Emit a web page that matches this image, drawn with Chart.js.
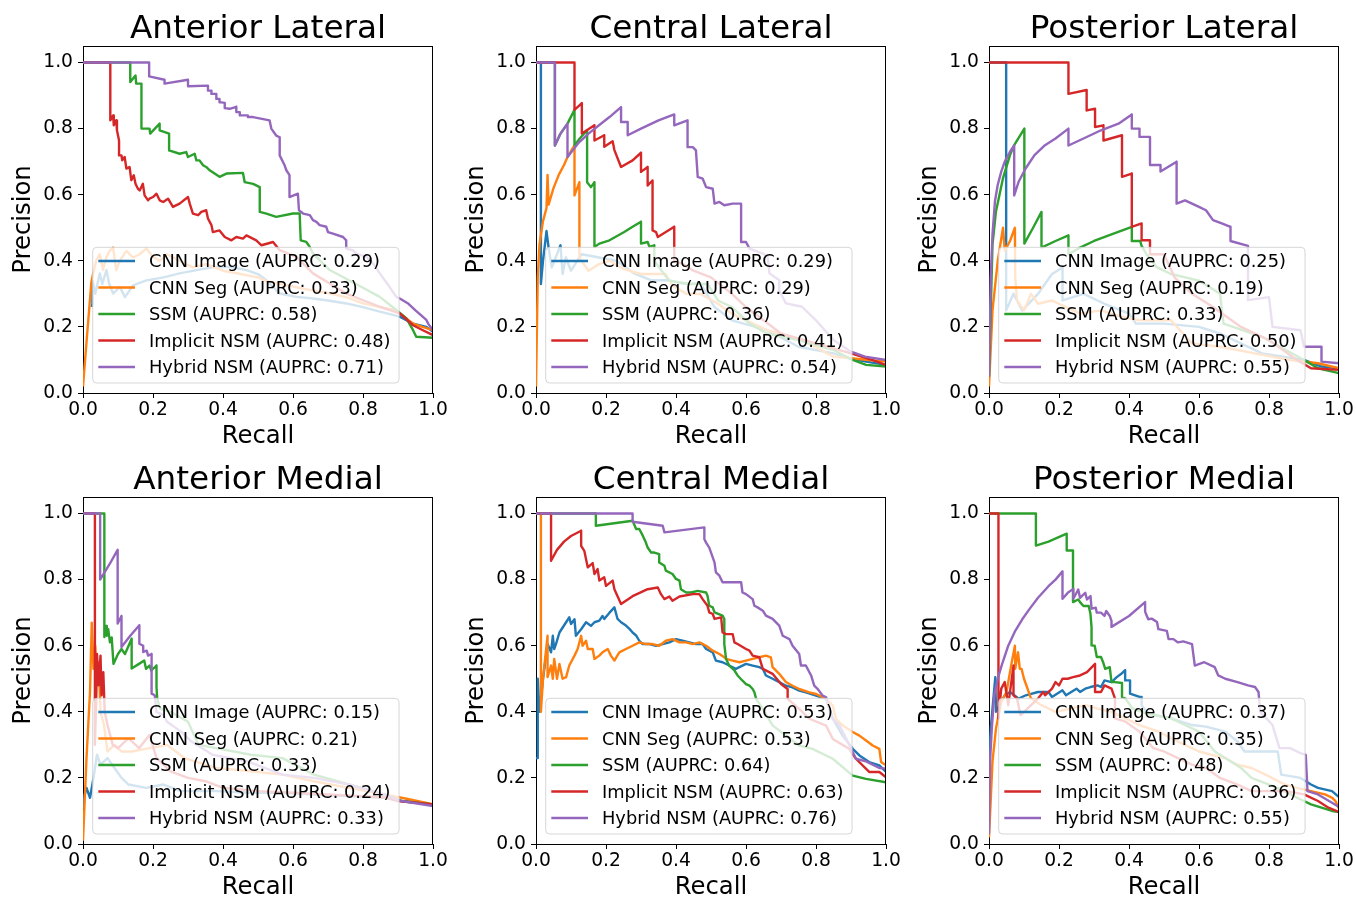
<!DOCTYPE html>
<html>
<head>
<meta charset="utf-8">
<script src="https://cdn.jsdelivr.net/npm/chart.js@4.4.0/dist/chart.umd.min.js"></script>
<style>
html, body { margin:0; padding:0; background:#fff; overflow:hidden; width:1356px; height:897px; }
canvas { position:absolute; }
</style>
</head>
<body>
<canvas id="c0" width="452" height="451" style="left:0px;top:0px"></canvas>
<canvas id="c1" width="452" height="451" style="left:453px;top:0px"></canvas>
<canvas id="c2" width="452" height="451" style="left:906px;top:0px"></canvas>
<canvas id="c3" width="452" height="451" style="left:0px;top:451px"></canvas>
<canvas id="c4" width="452" height="451" style="left:453px;top:451px"></canvas>
<canvas id="c5" width="452" height="451" style="left:906px;top:451px"></canvas>
<script>
// ---------- labels & tick values ----------
const PANEL_TITLES = ['Anterior Lateral', 'Central Lateral', 'Posterior Lateral',
                      'Anterior Medial', 'Central Medial', 'Posterior Medial'];
const SERIES_NAMES = ['CNN Image', 'CNN Seg', 'SSM', 'Implicit NSM', 'Hybrid NSM'];
const X_TICKS = [0.0, 0.2, 0.4, 0.6, 0.8, 1.0];
const Y_TICKS = [0.0, 0.2, 0.4, 0.6, 0.8, 1.0];

// AUPRC values per panel (order: CNN Image, CNN Seg, SSM, Implicit NSM, Hybrid NSM)
const AUPRC_AL = [0.29, 0.33, 0.58, 0.48, 0.71];
const AUPRC_CL = [0.29, 0.29, 0.36, 0.41, 0.54];
const AUPRC_PL = [0.25, 0.19, 0.33, 0.50, 0.55];
const AUPRC_AM = [0.15, 0.21, 0.33, 0.24, 0.33];
const AUPRC_CM = [0.53, 0.53, 0.64, 0.63, 0.76];
const AUPRC_PM = [0.37, 0.35, 0.48, 0.36, 0.55];

// ---------- curves: [recall, precision] ----------
// Anterior Lateral
const AL_CNN_IMAGE = [[.025,.26],[.027,.27],[.027,.34],[.035,.30],[.048,.362],[.055,.33],[.067,.372],[.075,.33],[.086,.301],[.105,.321],[.12,.29],[.143,.326],[.181,.341],[.23,.35],[.276,.362],[.324,.372],[.37,.38],[.419,.382],[.467,.372],[.50,.36],[.524,.341],[.562,.301],[.61,.291],[.657,.286],[.70,.28],[.752,.271],[.80,.26],[.848,.246],[.905,.231],[.943,.21],[.981,.20],[1,.185]];
const AL_CNN_SEG = [[0,.02],[.012,.18],[.024,.336],[.029,.362],[.038,.402],[.048,.42],[.057,.372],[.067,.412],[.076,.43],[.086,.44],[.095,.372],[.105,.40],[.124,.43],[.143,.41],[.162,.42],[.181,.437],[.20,.412],[.219,.40],[.24,.42],[.276,.40],[.314,.38],[.352,.39],[.40,.37],[.45,.36],[.50,.35],[.52,.34],[.562,.33],[.61,.32],[.657,.31],[.705,.301],[.752,.29],[.80,.271],[.848,.26],[.895,.25],[.943,.21],[.97,.20],[1,.19]];
const AL_SSM = [[0,1],[.135,1],[.135,.941],[.15,.961],[.152,.936],[.167,.936],[.167,.80],[.19,.80],[.192,.785],[.219,.815],[.219,.795],[.246,.785],[.246,.734],[.276,.724],[.295,.729],[.30,.714],[.319,.724],[.324,.704],[.333,.704],[.343,.689],[.352,.684],[.362,.674],[.39,.654],[.41,.664],[.457,.666],[.462,.638],[.486,.633],[.505,.623],[.505,.548],[.524,.543],[.552,.533],[.60,.543],[.619,.543],[.622,.462],[.638,.457],[.648,.442],[.657,.422],[.705,.372],[.78,.33],[.848,.291],[.895,.251],[.924,.226],[.943,.19],[.952,.17],[1,.167]];
const AL_IMPLICIT = [[0,1],[.078,1],[.078,.825],[.086,.84],[.088,.81],[.095,.825],[.097,.795],[.103,.764],[.103,.719],[.11,.719],[.112,.704],[.119,.714],[.124,.679],[.133,.684],[.138,.644],[.145,.659],[.15,.633],[.157,.618],[.162,.613],[.171,.633],[.176,.598],[.186,.583],[.19,.588],[.20,.593],[.21,.603],[.219,.583],[.229,.578],[.243,.588],[.257,.563],[.276,.573],[.30,.593],[.305,.573],[.314,.543],[.329,.538],[.338,.548],[.352,.553],[.357,.528],[.367,.508],[.371,.487],[.39,.492],[.405,.472],[.424,.462],[.438,.472],[.457,.467],[.467,.477],[.495,.462],[.51,.447],[.543,.457],[.562,.432],[.61,.412],[.657,.362],[.752,.301],[.848,.261],[.905,.241],[.943,.205],[.971,.19],[1,.175]];
const AL_HYBRID = [[0,1],[.189,1],[.189,.958],[.233,.948],[.233,.936],[.30,.948],[.30,.928],[.357,.93],[.357,.915],[.367,.915],[.367,.905],[.381,.905],[.381,.89],[.39,.89],[.39,.88],[.405,.878],[.405,.862],[.419,.86],[.438,.866],[.438,.85],[.448,.85],[.448,.84],[.471,.84],[.471,.835],[.486,.835],[.533,.825],[.538,.80],[.552,.779],[.562,.774],[.562,.719],[.576,.689],[.581,.674],[.59,.659],[.59,.593],[.614,.603],[.617,.553],[.629,.543],[.648,.538],[.657,.523],[.667,.518],[.676,.508],[.695,.503],[.70,.487],[.714,.482],[.743,.472],[.752,.462],[.752,.437],[.771,.432],[.781,.422],[.81,.412],[.83,.39],[.848,.362],[.87,.33],[.895,.291],[.905,.286],[.93,.27],[.95,.25],[.981,.221],[.986,.21],[1,.19]];

// Central Lateral
const CL_CNN_IMAGE = [[0,1],[.014,1],[.014,.33],[.02,.40],[.03,.49],[.036,.44],[.045,.38],[.07,.447],[.076,.36],[.085,.41],[.10,.37],[.13,.42],[.18,.41],[.23,.40],[.28,.362],[.33,.341],[.38,.341],[.42,.331],[.47,.331],[.51,.26],[.56,.22],[.66,.19],[.75,.14],[.85,.12],[.895,.105],[.943,.095],[1,.085]];
const CL_CNN_SEG = [[0,.02],[.005,.35],[.01,.45],[.02,.52],[.03,.56],[.033,.66],[.036,.57],[.05,.62],[.065,.66],[.08,.69],[.09,.714],[.11,.75],[.11,.598],[.124,.638],[.124,.41],[.13,.40],[.15,.37],[.18,.39],[.21,.40],[.25,.375],[.30,.36],[.33,.36],[.37,.36],[.39,.325],[.43,.30],[.47,.30],[.52,.27],[.56,.24],[.60,.22],[.66,.19],[.76,.16],[.85,.11],[.90,.105],[.95,.10],[1,.095]];
const CL_SSM = [[0,1],[.054,1],[.054,.749],[.07,.785],[.09,.815],[.11,.857],[.11,.75],[.125,.77],[.146,.795],[.146,.638],[.157,.623],[.167,.638],[.167,.442],[.181,.452],[.21,.462],[.252,.487],[.276,.503],[.30,.518],[.30,.452],[.319,.457],[.324,.442],[.338,.447],[.338,.40],[.38,.34],[.44,.33],[.49,.33],[.52,.28],[.56,.26],[.61,.21],[.66,.18],[.75,.16],[.85,.13],[.905,.10],[.943,.085],[1,.08]];
const CL_IMPLICIT = [[0,1],[.11,1],[.11,.857],[.131,.877],[.131,.785],[.167,.81],[.167,.764],[.195,.78],[.195,.745],[.219,.762],[.224,.735],[.243,.684],[.276,.704],[.30,.727],[.30,.669],[.319,.684],[.319,.628],[.333,.643],[.333,.492],[.343,.487],[.348,.472],[.371,.487],[.395,.503],[.395,.40],[.42,.39],[.45,.37],[.50,.35],[.56,.30],[.60,.26],[.65,.22],[.70,.18],[.80,.15],[.90,.12],[.96,.10],[1,.085]];
const CL_HYBRID = [[0,1],[.054,1],[.054,.749],[.07,.785],[.09,.815],[.09,.714],[.12,.755],[.15,.785],[.18,.81],[.21,.835],[.243,.865],[.243,.82],[.262,.82],[.262,.78],[.30,.80],[.35,.825],[.395,.843],[.395,.81],[.433,.825],[.433,.744],[.448,.744],[.457,.734],[.462,.654],[.476,.649],[.486,.623],[.505,.618],[.51,.573],[.524,.578],[.538,.568],[.562,.573],[.586,.573],[.586,.457],[.60,.457],[.61,.437],[.648,.422],[.662,.412],[.667,.362],[.695,.341],[.695,.311],[.714,.271],[.76,.261],[.80,.22],[.85,.16],[.90,.125],[.94,.11],[1,.10]];

// Posterior Lateral
const PL_CNN_IMAGE = [[0,1],[.049,1],[.049,.25],[.07,.30],[.095,.25],[.14,.30],[.18,.36],[.21,.38],[.21,.28],[.27,.30],[.33,.27],[.40,.24],[.42,.21],[.50,.21],[.60,.20],[.66,.18],[.78,.12],[.90,.10],[.95,.08],[1,.075]];
const PL_CNN_SEG = [[0,.02],[.01,.25],[.025,.40],[.04,.50],[.045,.43],[.06,.46],[.074,.50],[.075,.35],[.08,.28],[.10,.25],[.12,.30],[.14,.27],[.18,.28],[.22,.26],[.26,.24],[.32,.25],[.38,.23],[.43,.22],[.52,.22],[.58,.15],[.66,.14],[.76,.12],[.86,.10],[.94,.09],[1,.075]];
const PL_SSM = [[0,.05],[.01,.45],[.02,.55],[.04,.65],[.06,.72],[.072,.75],[.101,.80],[.101,.452],[.126,.50],[.15,.548],[.15,.44],[.19,.46],[.227,.477],[.227,.42],[.26,.44],[.30,.46],[.35,.48],[.408,.503],[.408,.46],[.432,.46],[.436,.445],[.45,.42],[.48,.38],[.52,.36],[.60,.34],[.66,.30],[.67,.21],[.78,.17],[.90,.10],[.94,.075],[1,.06]];
const PL_IMPLICIT = [[0,1],[.227,1],[.227,.905],[.279,.917],[.279,.855],[.303,.86],[.303,.805],[.327,.81],[.327,.764],[.38,.78],[.38,.654],[.408,.664],[.408,.503],[.436,.513],[.436,.462],[.46,.462],[.46,.42],[.50,.42],[.53,.35],[.58,.30],[.64,.26],[.72,.20],[.80,.16],[.88,.10],[.92,.075],[1,.07]];
const PL_HYBRID = [[0,.05],[.005,.35],[.01,.48],[.017,.58],[.025,.63],[.035,.67],[.045,.70],[.06,.73],[.072,.749],[.072,.598],[.085,.64],[.105,.68],[.13,.72],[.16,.75],[.19,.77],[.227,.80],[.227,.749],[.27,.77],[.32,.795],[.37,.815],[.408,.843],[.408,.80],[.43,.80],[.43,.775],[.46,.775],[.46,.69],[.49,.69],[.49,.67],[.536,.70],[.536,.573],[.56,.583],[.60,.563],[.62,.553],[.64,.523],[.665,.513],[.69,.503],[.69,.46],[.74,.445],[.74,.281],[.80,.29],[.81,.20],[.89,.19],[.90,.14],[.95,.14],[.95,.095],[1,.09]];

// Anterior Medial
const AM_CNN_IMAGE = [[0,.11],[.005,.15],[.01,.17],[.02,.14],[.03,.20],[.04,.27],[.05,.24],[.07,.26],[.09,.23],[.11,.20],[.13,.18],[.18,.17],[.23,.18],[.28,.16],[.38,.16],[.48,.155],[.57,.155],[.66,.15],[.76,.145],[.86,.14],[.91,.13],[1,.12]];
const AM_CNN_SEG = [[0,.01],[.01,.26],[.02,.46],[.025,.67],[.03,.53],[.035,.60],[.04,.50],[.045,.55],[.05,.40],[.06,.36],[.07,.28],[.09,.30],[.11,.28],[.14,.28],[.19,.29],[.24,.30],[.29,.26],[.38,.23],[.48,.22],[.57,.21],[.66,.19],[.76,.17],[.86,.15],[.91,.14],[1,.12]];
const AM_SSM = [[0,1],[.061,1],[.061,.626],[.066,.66],[.068,.63],[.072,.65],[.077,.61],[.082,.625],[.087,.545],[.10,.575],[.11,.59],[.12,.575],[.139,.621],[.139,.531],[.16,.545],[.175,.555],[.18,.53],[.19,.54],[.195,.525],[.21,.54],[.21,.475],[.212,.44],[.22,.41],[.25,.40],[.30,.37],[.33,.30],[.38,.29],[.48,.27],[.57,.26],[.66,.21],[.76,.18],[.86,.15],[.91,.13],[1,.12]];
const AM_IMPLICIT = [[0,1],[.034,1],[.034,.30],[.038,.45],[.04,.575],[.045,.48],[.05,.57],[.053,.45],[.058,.52],[.062,.40],[.07,.36],[.085,.30],[.10,.29],[.13,.32],[.16,.29],[.19,.33],[.21,.26],[.25,.22],[.30,.20],[.35,.19],[.40,.17],[.50,.16],[.60,.155],[.70,.15],[.80,.145],[.87,.14],[.90,.13],[.95,.125],[1,.12]];
const AM_HYBRID = [[0,1],[.049,1],[.049,.80],[.075,.845],[.099,.89],[.099,.667],[.11,.69],[.11,.596],[.135,.63],[.161,.662],[.161,.606],[.172,.60],[.172,.581],[.182,.585],[.186,.57],[.196,.575],[.196,.455],[.205,.45],[.21,.40],[.23,.39],[.24,.37],[.28,.34],[.31,.31],[.37,.27],[.47,.25],[.57,.21],[.66,.20],[.76,.18],[.86,.15],[.91,.13],[1,.115]];

// Central Medial
const CM_CNN_IMAGE = [[0,.26],[.005,.26],[.005,.50],[.01,.40],[.02,.50],[.033,.605],[.043,.58],[.048,.63],[.052,.59],[.057,.605],[.067,.64],[.086,.671],[.095,.686],[.10,.666],[.11,.68],[.114,.63],[.129,.65],[.143,.671],[.157,.66],[.167,.671],[.181,.676],[.19,.69],[.195,.681],[.21,.70],[.224,.716],[.233,.681],[.243,.671],[.257,.661],[.267,.651],[.276,.64],[.286,.631],[.295,.615],[.305,.605],[.324,.605],[.343,.60],[.362,.605],[.381,.61],[.40,.62],[.419,.615],[.438,.61],[.457,.605],[.476,.605],[.486,.59],[.505,.58],[.514,.555],[.533,.55],[.552,.54],[.571,.53],[.60,.545],[.619,.54],[.638,.535],[.648,.53],[.657,.51],[.676,.50],[.695,.49],[.714,.479],[.733,.474],[.752,.464],[.771,.459],[.80,.449],[.829,.439],[.848,.379],[.876,.328],[.905,.288],[.924,.268],[.952,.248],[.981,.238],[1,.218]];
const CM_CNN_SEG = [[0,1],[.014,1],[.014,.40],[.02,.50],[.033,.63],[.033,.505],[.043,.54],[.048,.50],[.052,.56],[.06,.50],[.067,.545],[.076,.50],[.086,.505],[.095,.54],[.11,.57],[.119,.59],[.129,.63],[.133,.60],[.143,.615],[.148,.59],[.162,.59],[.167,.56],[.181,.57],[.19,.58],[.205,.59],[.214,.57],[.224,.555],[.238,.58],[.257,.59],[.276,.60],[.295,.61],[.314,.605],[.333,.605],[.352,.60],[.371,.615],[.39,.62],[.41,.61],[.429,.61],[.448,.605],[.467,.61],[.486,.60],[.505,.585],[.524,.575],[.538,.565],[.543,.56],[.562,.555],[.581,.55],[.60,.555],[.619,.56],[.638,.565],[.657,.57],[.671,.565],[.676,.535],[.695,.515],[.714,.49],[.733,.479],[.752,.469],[.781,.459],[.80,.454],[.81,.449],[.829,.439],[.848,.419],[.857,.379],[.876,.359],[.905,.339],[.924,.328],[.943,.313],[.962,.298],[.981,.288],[.986,.248],[1,.238]];
const CM_SSM = [[0,1],[.171,1],[.171,.963],[.276,.978],[.286,.953],[.295,.953],[.305,.933],[.314,.912],[.319,.897],[.329,.882],[.338,.882],[.352,.877],[.352,.852],[.367,.842],[.371,.827],[.39,.817],[.40,.802],[.41,.797],[.414,.771],[.429,.761],[.443,.761],[.462,.766],[.486,.761],[.49,.751],[.495,.721],[.505,.716],[.51,.701],[.533,.691],[.538,.681],[.538,.605],[.543,.56],[.552,.54],[.567,.525],[.576,.51],[.59,.494],[.60,.484],[.61,.479],[.619,.469],[.624,.459],[.629,.439],[.648,.409],[.676,.359],[.714,.328],[.752,.298],[.79,.288],[.848,.258],[.905,.207],[.943,.197],[1,.187]];
const CM_IMPLICIT = [[0,1],[.043,1],[.043,.857],[.06,.89],[.08,.915],[.10,.932],[.129,.948],[.129,.902],[.138,.887],[.143,.862],[.148,.837],[.162,.85],[.167,.817],[.176,.832],[.181,.797],[.195,.807],[.20,.781],[.219,.797],[.224,.771],[.243,.726],[.276,.75],[.319,.771],[.348,.776],[.357,.756],[.367,.741],[.381,.749],[.39,.736],[.41,.749],[.448,.756],[.467,.756],[.476,.741],[.49,.721],[.495,.701],[.505,.696],[.51,.681],[.529,.686],[.533,.64],[.543,.635],[.562,.635],[.567,.61],[.576,.605],[.60,.59],[.61,.585],[.619,.57],[.638,.565],[.648,.53],[.676,.515],[.70,.484],[.719,.469],[.719,.439],[.752,.409],[.781,.379],[.829,.358],[.848,.318],[.876,.30],[.895,.288],[.914,.258],[.952,.218],[.981,.218],[1,.202]];
const CM_HYBRID = [[0,1],[.276,1],[.276,.975],[.362,.963],[.367,.943],[.481,.958],[.481,.922],[.486,.912],[.495,.897],[.51,.852],[.514,.822],[.524,.812],[.533,.792],[.562,.792],[.586,.792],[.59,.761],[.60,.756],[.619,.741],[.624,.721],[.633,.716],[.648,.706],[.657,.691],[.676,.681],[.695,.661],[.705,.63],[.724,.62],[.733,.60],[.752,.575],[.757,.54],[.771,.54],[.786,.51],[.795,.479],[.805,.469],[.819,.449],[.829,.444],[.838,.409],[.848,.379],[.867,.359],[.895,.30],[.914,.258],[.943,.25],[.981,.23],[1,.228]];

// Posterior Medial
const PM_CNN_IMAGE = [[0,.25],[.005,.35],[.018,.505],[.02,.40],[.03,.42],[.045,.45],[.06,.46],[.085,.44],[.105,.45],[.14,.46],[.17,.46],[.18,.445],[.21,.465],[.22,.45],[.25,.47],[.26,.46],[.275,.47],[.29,.475],[.31,.48],[.32,.475],[.33,.495],[.35,.49],[.365,.505],[.378,.515],[.389,.526],[.389,.495],[.403,.495],[.403,.455],[.43,.445],[.436,.445],[.436,.42],[.45,.40],[.475,.39],[.52,.38],[.58,.36],[.62,.355],[.675,.34],[.71,.31],[.73,.28],[.825,.28],[.835,.21],[.89,.20],[.92,.18],[.94,.17],[.98,.16],[1,.142]];
const PM_CNN_SEG = [[0,.02],[.01,.25],[.02,.35],[.035,.43],[.05,.46],[.065,.55],[.074,.60],[.075,.53],[.083,.58],[.088,.53],[.093,.53],[.10,.50],[.11,.47],[.12,.44],[.15,.42],[.19,.40],[.235,.41],[.275,.42],[.31,.41],[.35,.40],[.39,.38],[.43,.36],[.485,.34],[.52,.32],[.56,.30],[.60,.28],[.635,.27],[.675,.26],[.71,.24],[.75,.23],[.79,.21],[.845,.18],[.88,.17],[.92,.16],[.96,.15],[.98,.14],[.99,.13],[1,.107]];
const PM_SSM = [[0,1],[.134,1],[.134,.903],[.17,.915],[.222,.939],[.222,.888],[.24,.888],[.24,.863],[.24,.732],[.255,.74],[.26,.732],[.27,.72],[.285,.72],[.29,.695],[.293,.655],[.293,.601],[.302,.60],[.308,.566],[.32,.566],[.326,.55],[.332,.53],[.345,.535],[.35,.49],[.36,.49],[.38,.487],[.38,.444],[.39,.44],[.41,.41],[.45,.395],[.52,.38],[.56,.36],[.60,.34],[.645,.28],[.675,.26],[.72,.23],[.75,.20],[.80,.18],[.845,.16],[.88,.14],[.92,.12],[.95,.11],[.98,.10],[1,.097]];
const PM_IMPLICIT = [[0,1],[.027,1],[.027,.38],[.035,.47],[.045,.49],[.055,.42],[.07,.54],[.07,.45],[.08,.44],[.09,.39],[.10,.40],[.12,.42],[.14,.44],[.155,.46],[.16,.45],[.18,.47],[.19,.49],[.20,.48],[.21,.50],[.225,.50],[.24,.505],[.26,.51],[.28,.52],[.303,.545],[.303,.46],[.32,.46],[.33,.48],[.35,.47],[.36,.44],[.36,.38],[.39,.37],[.43,.34],[.47,.29],[.50,.28],[.54,.26],[.58,.24],[.62,.23],[.66,.20],[.71,.18],[.75,.16],[.85,.16],[.90,.15],[.94,.13],[.97,.11],[1,.097]];
const PM_HYBRID = [[0,.03],[.003,.25],[.008,.35],[.015,.45],[.025,.50],[.036,.54],[.055,.60],[.075,.645],[.095,.68],[.115,.71],[.14,.745],[.17,.78],[.19,.80],[.21,.825],[.21,.742],[.225,.76],[.241,.772],[.241,.742],[.255,.77],[.26,.745],[.275,.76],[.28,.74],[.29,.75],[.293,.712],[.305,.715],[.308,.70],[.32,.70],[.33,.69],[.335,.705],[.345,.69],[.35,.675],[.35,.657],[.40,.69],[.446,.732],[.446,.703],[.455,.68],[.465,.682],[.48,.672],[.484,.65],[.508,.645],[.513,.62],[.527,.62],[.54,.61],[.555,.613],[.58,.605],[.588,.54],[.615,.55],[.645,.535],[.655,.51],[.675,.50],[.71,.49],[.74,.48],[.76,.475],[.77,.46],[.775,.40],[.81,.36],[.83,.29],[.86,.29],[.89,.275],[.905,.27],[.91,.16],[.94,.15],[.98,.125],[1,.112]];

// ---------- assembly ----------
const COLORS = ['#1f77b4', '#ff7f0e', '#2ca02c', '#d62728', '#9467bd'];
const FONT = "'DejaVu Sans', 'Liberation Sans', sans-serif";

const PANELS = [
  { auprc: AUPRC_AL, series: [AL_CNN_IMAGE, AL_CNN_SEG, AL_SSM, AL_IMPLICIT, AL_HYBRID] },
  { auprc: AUPRC_CL, series: [CL_CNN_IMAGE, CL_CNN_SEG, CL_SSM, CL_IMPLICIT, CL_HYBRID] },
  { auprc: AUPRC_PL, series: [PL_CNN_IMAGE, PL_CNN_SEG, PL_SSM, PL_IMPLICIT, PL_HYBRID] },
  { auprc: AUPRC_AM, series: [AM_CNN_IMAGE, AM_CNN_SEG, AM_SSM, AM_IMPLICIT, AM_HYBRID] },
  { auprc: AUPRC_CM, series: [CM_CNN_IMAGE, CM_CNN_SEG, CM_SSM, CM_IMPLICIT, CM_HYBRID] },
  { auprc: AUPRC_PM, series: [PM_CNN_IMAGE, PM_CNN_SEG, PM_SSM, PM_IMPLICIT, PM_HYBRID] }
];

const frameLegend = {
  id: 'frameLegend',
  afterDatasetsDraw(chart, args, opts) {
    const ctx = chart.ctx, a = chart.chartArea;
    ctx.save();
    // top and right spines
    ctx.strokeStyle = '#000';
    ctx.lineWidth = 1;
    ctx.beginPath();
    ctx.moveTo(a.left, a.top + 0.5); ctx.lineTo(a.right, a.top + 0.5);
    ctx.moveTo(a.right - 0.5, a.top); ctx.lineTo(a.right - 0.5, a.bottom);
    ctx.stroke();
    // legend box
    const labels = opts.labels || [];
    ctx.font = '17.8px ' + FONT;
    const maxW = Math.max(...labels.map(t => ctx.measureText(t).width));
    const bx = a.left + 9.7, by = a.top + 201.3;
    const bw = 66 + maxW + 8.5 - 9.7, bh = 135.7;
    ctx.beginPath();
    ctx.roundRect(bx, by, bw, bh, 4);
    ctx.fillStyle = 'rgba(255,255,255,0.8)';
    ctx.fill();
    ctx.strokeStyle = 'rgba(204,204,204,0.8)';
    ctx.lineWidth = 1;
    ctx.stroke();
    labels.forEach((t, i) => {
      const cy = a.top + 215 + i * 26.5;
      ctx.strokeStyle = COLORS[i];
      ctx.lineWidth = 2.4;
      ctx.beginPath();
      ctx.moveTo(a.left + 15.3, cy); ctx.lineTo(a.left + 52, cy);
      ctx.stroke();
      ctx.fillStyle = '#000';
      ctx.textBaseline = 'alphabetic';
      ctx.textAlign = 'left';
      ctx.fillText(t, a.left + 66, cy + 6.4);
    });
    ctx.restore();
  }
};

PANELS.forEach((panel, pi) => {
  const datasets = panel.series.map((pts, si) => ({
    label: SERIES_NAMES[si],
    data: pts.map(p => ({ x: p[0], y: p[1] })),
    borderColor: COLORS[si],
    backgroundColor: COLORS[si],
    borderWidth: 2.4,
    borderJoinStyle: 'round',
    pointRadius: 0,
    tension: 0,
    fill: false,
    order: 4 - si
  }));
  const legendLabels = SERIES_NAMES.map((n, si) => n + ' (AUPRC: ' + panel.auprc[si].toFixed(2) + ')');
  new Chart(document.getElementById('c' + pi), {
    type: 'line',
    data: { datasets },
    plugins: [frameLegend],
    options: {
      responsive: false,
      animation: false,
      events: [],
      layout: { padding: { left: 0, top: 0, right: 19, bottom: 0 } },
      plugins: {
        legend: { display: false },
        tooltip: { enabled: false },
        title: {
          display: true,
          text: PANEL_TITLES[pi],
          fullSize: false,
          color: '#000',
          font: { family: FONT, size: 32.7, weight: 'normal', lineHeight: 1 },
          padding: { top: 13.2, bottom: 0.1 }
        },
        frameLegend: { labels: legendLabels }
      },
      scales: {
        x: {
          type: 'linear', position: 'bottom', min: 0, max: 1,
          afterBuildTicks: s => { s.ticks = X_TICKS.map(v => ({ value: v })); },
          afterFit: s => { s.height = 58; },
          ticks: {
            color: '#000', padding: 1, maxRotation: 0, autoSkip: false,
            font: { family: FONT, size: 18.7 },
            callback: v => Number(v).toFixed(1)
          },
          grid: { display: true, drawOnChartArea: false, drawTicks: true, tickLength: 5, tickColor: '#000', tickWidth: 1 },
          border: { display: true, color: '#000', width: 1 },
          title: { display: true, text: 'Recall', color: '#000', font: { family: FONT, size: 24.3, lineHeight: 1.2 }, padding: { top: 0, bottom: 0 } }
        },
        y: {
          type: 'linear', position: 'left', min: 0, max: 1.05,
          afterBuildTicks: s => { s.ticks = Y_TICKS.map(v => ({ value: v })); },
          afterFit: s => { s.width = 83; },
          ticks: {
            color: '#000', padding: 5, autoSkip: false,
            font: { family: FONT, size: 18.7 },
            callback: v => Number(v).toFixed(1)
          },
          grid: { display: true, drawOnChartArea: false, drawTicks: true, tickLength: 5, tickColor: '#000', tickWidth: 1 },
          border: { display: true, color: '#000', width: 1 },
          title: { display: true, text: 'Precision', color: '#000', font: { family: FONT, size: 24.3, lineHeight: 1.2 }, padding: { top: 9, bottom: 0 } }
        }
      }
    }
  });
});
</script>
</body>
</html>
